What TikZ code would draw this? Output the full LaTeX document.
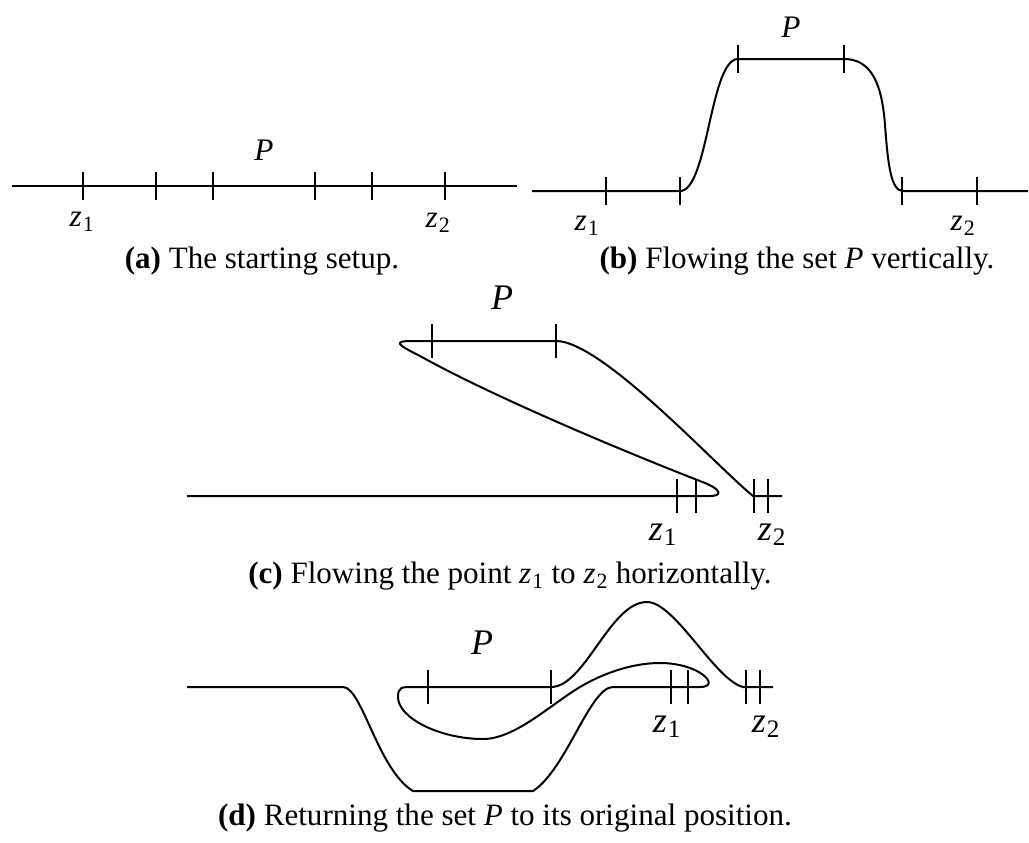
\documentclass[tikz,border=0pt]{standalone}
\usepackage{fontspec}
\setmainfont{Liberation Serif}
\newcommand\vP{\textit{P}}
\newcommand\vz[1]{\textit{z}\kern0.03em\textsubscript{#1}}
\begin{document}
\begin{tikzpicture}[x=0.75pt,y=-0.75pt,
  crv/.style={line width=1.5pt,line join=round},
  tk/.style={line width=1.5pt},
  capt/.style={font=\fontsize{23.3}{26}\selectfont,inner sep=0pt},
  labs/.style={font=\fontsize{23.5}{26}\selectfont,inner sep=0pt},
  labl/.style={font=\fontsize{27}{30}\selectfont,inner sep=0pt}]
\useasboundingbox (0,0) rectangle (1029,843);
% ---------- (a)
\draw[crv] (12,186) -- (517,186);
\foreach \x in {83,156,213,315,372,445} \draw[tk] (\x,172) -- (\x,200);
\node[labs] (Pa) at (264,150) {\vP};
\node[labs] (z1a) at (82,222) {\vz{1}};
\node[labs] (z2a) at (438,223) {\vz{2}};
\node[capt] (capa) at (262,261) {\textbf{(a)} The starting setup.};
% ---------- (b)
\draw[crv] (532,191) -- (680,191) .. controls (708,191) and (710,59) .. (738,59)
  -- (844,59) .. controls (872,59) and (882,85) .. (885,125)
  .. controls (888,165) and (891,191) .. (903,191) -- (1028,191);
\foreach \x in {606,680,902,977} \draw[tk] (\x,177) -- (\x,205);
\foreach \x in {738,844} \draw[tk] (\x,45) -- (\x,73);
\node[labs] (Pb) at (791,27) {\vP};
\node[labs] (z1b) at (587,226) {\vz{1}};
\node[labs] (z2b) at (963,226) {\vz{2}};
\node[capt] (capb) at (797,261) {\textbf{(b)} Flowing the set \vP{} vertically.};
% ---------- (c)
\draw[crv] (187,496) -- (710,496) .. controls (722,496) and (722,490) .. (705,483)
  .. controls (615,448) and (490,395) .. (420,356)
  .. controls (398,345) and (392,341) .. (412,341) -- (556,341)
  .. controls (602,341) and (715,465) .. (753,496) -- (782,496);
\foreach \x in {432,556} \draw[tk] (\x,324) -- (\x,358);
\foreach \x in {677,696,754,768} \draw[tk] (\x,479) -- (\x,513);
\node[labl] (Pc) at (502,298) {\vP};
\node[labl] (z1c) at (663,535) {\vz{1}};
\node[labl] (z2c) at (772,535) {\vz{2}};
\node[capt] (capc) at (510,576) {\textbf{(c)} Flowing the point \vz{1} to \vz{2} horizontally.};
% ---------- (d)
\draw[crv] (187,687) -- (343,687) .. controls (362,687) and (378,770) .. (413,791)
  -- (533,791) .. controls (566,770) and (590,687) .. (613,687) -- (700,687)
  .. controls (722,687) and (700,663) .. (660,663)
  .. controls (630,663) and (600,675) .. (580,687)
  .. controls (550,705) and (515,739) .. (483,739)
  .. controls (440,739) and (398,718) .. (398,697)
  .. controls (398,687) and (402,687) .. (412,687) -- (551,687)
  .. controls (585,687) and (610,602) .. (647,602)
  .. controls (675,602) and (715,680) .. (743,687) -- (773,687);
\foreach \x in {428,551,671,688,746,760} \draw[tk] (\x,670) -- (\x,704);
\node[labl] (Pd) at (482,643) {\vP};
\node[labl] (z1d) at (667,727) {\vz{1}};
\node[labl] (z2d) at (766,727) {\vz{2}};
\node[capt] (capd) at (505,818) {\textbf{(d)} Returning the set \vP{} to its original position.};
\end{tikzpicture}
\end{document}
